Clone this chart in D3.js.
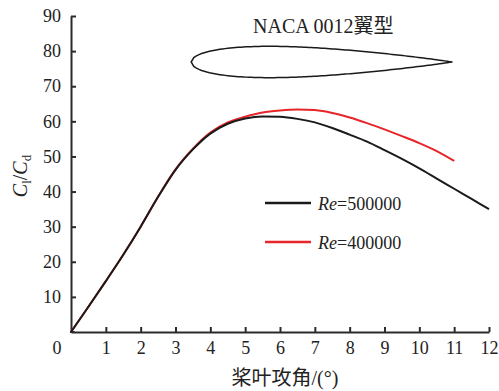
<!DOCTYPE html>
<html>
<head>
<meta charset="utf-8">
<script src="https://cdn.jsdelivr.net/npm/d3@7.9.0/dist/d3.min.js"></script>
<style>
  body { margin: 0; background: #fff; }
  svg text { font-family: "Liberation Serif", "Noto Sans CJK SC", serif; fill: #222; }
</style>
</head>
<body>
<svg id="chart" width="499" height="391"></svg>
<script>
// angle of attack (deg)
const angles = [0, 0.5, 1, 1.5, 2, 2.5, 3, 3.5, 4, 4.5, 5, 5.5, 6, 6.5, 7, 7.5, 8, 8.5, 9, 9.5, 10, 10.5, 11, 11.5, 12];
// Cl/Cd, Re = 500000
const re500k = [0, 7.2, 14.5, 22, 30, 38.5, 46.2, 52, 56.5, 59.3, 60.8, 61.4, 61.3, 60.7, 59.7, 58.1, 56.2, 54.2, 51.8, 49.3, 46.6, 43.7, 40.8, 37.9, 35.0];
// Cl/Cd, Re = 400000 (stops at 11 deg)
const re400k = [0, 7.2, 14.5, 22, 30, 38.5, 46.3, 52.2, 56.8, 59.7, 61.3, 62.5, 63.1, 63.4, 63.2, 62.4, 61.1, 59.5, 57.7, 55.8, 53.8, 51.5, 48.7];
const xTicks = [1, 2, 3, 4, 5, 6, 7, 8, 9, 10, 11, 12];
const yTicks = [10, 20, 30, 40, 50, 60, 70, 80, 90];
const legendLabels = ["500000", "400000"];

const serif = '"Liberation Serif", "Noto Sans CJK SC", serif';
const svg = d3.select('#chart');
const x = d3.scaleLinear().domain([0, 12]).range([71, 489]);
const y = d3.scaleLinear().domain([0, 90]).range([332, 16]);

// axes
const xAxis = svg.append('g')
  .attr('transform', `translate(0,${y(0)})`)
  .call(d3.axisBottom(x).tickValues(xTicks).tickSizeInner(-5).tickSizeOuter(0).tickPadding(9));
const yAxis = svg.append('g')
  .attr('transform', `translate(${x(0)},0)`)
  .call(d3.axisLeft(y).tickValues(yTicks).tickSizeInner(-5).tickSizeOuter(0).tickPadding(10));

[xAxis, yAxis].forEach(g => {
  g.attr('font-family', null);
  g.select('.domain').attr('stroke', '#2b2b2b').attr('stroke-width', 2);
  g.selectAll('.tick line').attr('stroke', '#2b2b2b').attr('stroke-width', 2);
  g.selectAll('.tick text').style('font-size', '18px').style('fill', '#222')
    .style('font-family', serif);
});
// extend the x axis line to the corner
svg.append('line')
  .attr('x1', x(0) - 1).attr('x2', x(0.1)).attr('y1', y(0)).attr('y2', y(0))
  .attr('stroke', '#2b2b2b').attr('stroke-width', 2);

svg.append('text').attr('x', 57).attr('y', 354)
  .attr('text-anchor', 'middle').style('font-size', '18px').style('font-family', serif).text('0');

// curves
const line = d3.line()
  .x((d, i) => x(angles[i]))
  .y(d => y(d))
  .curve(d3.curveMonotoneX);

svg.append('path').datum(re400k)
  .attr('d', line).attr('fill', 'none')
  .attr('stroke', '#e8262a').attr('stroke-width', 2);
svg.append('path').datum(re500k)
  .attr('d', line).attr('fill', 'none')
  .attr('stroke', '#1a1a1a').attr('stroke-width', 2);

// legend
const legendColors = ['#1a1a1a', '#e8262a'];
legendLabels.forEach((lab, i) => {
  const ly = 203 + i * 39;
  svg.append('line')
    .attr('x1', 265).attr('x2', 311).attr('y1', ly).attr('y2', ly)
    .attr('stroke', legendColors[i]).attr('stroke-width', 2.5);
  const t = svg.append('text').attr('x', 318).attr('y', ly + 7)
    .style('font-size', '18px').style('font-family', serif);
  t.append('tspan').attr('font-style', 'italic').text('Re');
  t.append('tspan').text('=' + lab);
});

// airfoil sketch (NACA 0012 thickness distribution)
const le = 3.45, te = 10.95, yc = 76.9;
const chordPx = x(te) - x(le);
const thick = t => 5 * 0.12 * (0.2969 * Math.sqrt(t) - 0.126 * t - 0.3516 * t * t + 0.2843 * t ** 3 - 0.1036 * t ** 4);
const ts = d3.range(0, 1.0001, 0.01);
const upper = ts.map(t => [x(le) + t * chordPx, y(yc) - thick(t) * chordPx]);
const lower = ts.slice().reverse().map(t => [x(le) + t * chordPx, y(yc) + thick(t) * chordPx]);
svg.append('path')
  .attr('d', d3.line()(upper.concat(lower)) + 'Z')
  .attr('fill', 'none').attr('stroke', '#1a1a1a').attr('stroke-width', 1.5);

svg.append('text').attr('x', 253).attr('y', 33)
  .style('font-size', '20px').style('font-family', serif).text('NACA 0012翼型');

// axis titles
svg.append('text').attr('x', 285).attr('y', 385)
  .attr('text-anchor', 'middle').style('font-size', '20px').style('font-family', serif).text('桨叶攻角/(°)');

const yt = svg.append('text')
  .attr('transform', `translate(27,176) rotate(-90)`)
  .attr('text-anchor', 'middle').style('font-size', '20px').style('font-family', serif);
yt.append('tspan').attr('font-style', 'italic').text('C');
yt.append('tspan').style('font-size', '13px').attr('dy', 4).text('l');
yt.append('tspan').attr('dy', -4).text('/');
yt.append('tspan').attr('font-style', 'italic').text('C');
yt.append('tspan').style('font-size', '13px').attr('dy', 4).text('d');
</script>
</body>
</html>
